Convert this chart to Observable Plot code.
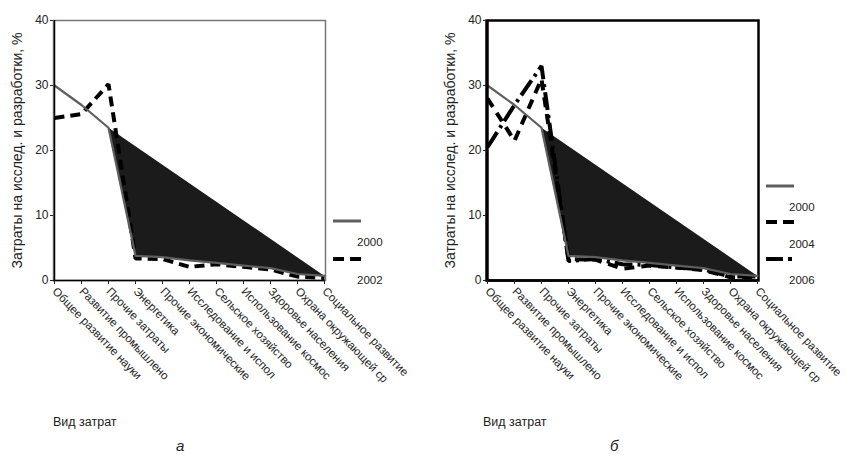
<!DOCTYPE html>
<html><head><meta charset="utf-8">
<script src="https://cdn.jsdelivr.net/npm/d3@7"></script>
<script src="https://cdn.jsdelivr.net/npm/@observablehq/plot@0.6"></script>
<style>
body{margin:0;background:#fff;font-family:"Liberation Sans",Arial,sans-serif;}
#root{position:relative;width:846px;height:457px;overflow:hidden;}
.abs{position:absolute;color:#222;}
</style></head>
<body><div id="root"></div>
<script>
const categories = ["Общее развитие науки","Развитие промышлено","Прочие затраты","Энергетика","Прочие экономические","Исследование и испол","Сельское хозяйство","Использование космос","Здоровье населения","Охрана окружающей ср","Социальное развитие"];
const v2000 = [30, 27, 23.5, 3.8, 3.6, 3.1, 2.7, 2.3, 1.9, 1.0, 0.7];
const v2002 = [25, 25.6, 30.2, 3.4, 3.3, 2.1, 2.5, 2.1, 1.7, 0.6, 0.4];
const v2004 = [28, 21.5, 31, 3.3, 3.2, 1.8, 2.3, 2.0, 1.6, 0.5, 0.5];
const v2006 = [20.5, 27, 33, 3.0, 3.3, 2.5, 2.4, 2.0, 1.7, 0.6, 0.6];
const yTicks = [0, 10, 20, 30, 40];
const yLabel = "Затраты на исслед. и разработки, %";
const xLabel = "Вид затрат";

const rows = vals => vals.map((v, i) => ({cat: categories[i], v}));

const styles = {
  "2000": {stroke: "#5e5e5e", strokeWidth: 2.2},
  "2002": {stroke: "#000", strokeWidth: 4, strokeDasharray: "10,6", strokeLinecap: "butt"},
  "2004": {stroke: "#000", strokeWidth: 4, strokeDasharray: "10,7", strokeLinecap: "butt"},
  "2006": {stroke: "#000", strokeWidth: 4, strokeDasharray: "18,5,3,5", strokeLinecap: "butt"}
};

function panel(series, opts) {
  const marks = [
    Plot.frame({stroke: opts.frameColor, strokeWidth: opts.frameWidth}),
    Plot.line(rows(v2000).slice(2), {x: "cat", y: "v", fill: "#1b1b1b", stroke: "#1b1b1b", strokeWidth: 1}),
  ];
  for (const [name, vals] of series.slice().reverse()) {
    if (name === "2000") continue;
    marks.push(Plot.line(rows(vals), {x: "cat", y: "v", ...styles[name], strokeLinejoin: "miter"}));
  }
  marks.push(Plot.line(rows(v2000), {x: "cat", y: "v", ...styles["2000"]}));
  marks.push(Plot.ruleY([0], {stroke: "#000", strokeWidth: opts.axisWidth}));
  marks.push(Plot.ruleX([categories[0]], {stroke: "#000", strokeWidth: opts.axisWidth}));
  marks.push(Plot.axisY({ticks: yTicks, tickSize: 3, tickPadding: 2, label: null, fontSize: 12}));
  marks.push(Plot.axisX({tickSize: 4, tickPadding: 5, tickRotate: 46, label: null, fontSize: 11.5}));
  marks.push(Plot.text([yLabel], {frameAnchor: "left", textAnchor: "middle", dx: -36, rotate: -90, fontSize: 14, fill: "#222"}));
  return Plot.plot({
    width: opts.w, height: 400,
    marginLeft: opts.ml, marginRight: opts.w - opts.ml - 272, marginTop: 20, marginBottom: 120,
    style: {fontFamily: '"Liberation Sans", Arial, sans-serif', color: "#222", background: "transparent", overflow: "visible"},
    x: {type: "point", domain: categories, padding: 0},
    y: {domain: [0, 40]},
    marks
  });
}

const root = document.getElementById("root");
function place(el, left, top) {
  const d = document.createElement("div");
  d.className = "abs"; d.style.left = left + "px"; d.style.top = top + "px";
  d.appendChild(el); root.appendChild(d); return d;
}
function text(str, left, top, size, italic) {
  const s = document.createElement("span");
  s.textContent = str; s.style.fontSize = size + "px"; s.style.whiteSpace = "nowrap";
  if (italic) s.style.fontStyle = "italic";
  place(s, left, top);
}
function legendLine(name, left, top) {
  const ns = "http://www.w3.org/2000/svg";
  const svg = document.createElementNS(ns, "svg");
  svg.setAttribute("width", 30); svg.setAttribute("height", 8);
  const l = document.createElementNS(ns, "line");
  l.setAttribute("x1", 0); l.setAttribute("x2", 28); l.setAttribute("y1", 4); l.setAttribute("y2", 4);
  const st = styles[name];
  l.setAttribute("stroke", st.stroke);
  l.setAttribute("stroke-width", name === "2000" ? 3 : 4);
  if (st.strokeDasharray) l.setAttribute("stroke-dasharray", name === "2002" || name === "2004" ? "11,6" : "17,5,4,5");
  svg.appendChild(l);
  place(svg, left, top - 4);
}

place(panel([["2000", v2000], ["2002", v2002]], {w: 420, ml: 53, frameColor: "#777", frameWidth: 1.5, axisWidth: 1.5}), 0, 0);
place(panel([["2000", v2000], ["2004", v2004], ["2006", v2006]], {w: 418, ml: 60, frameColor: "#000", frameWidth: 2.5, axisWidth: 2.5}), 426, 0);

// legend a
legendLine("2000", 333, 215); text("2000", 357, 232, 11.5);
legendLine("2002", 333, 253); text("2002", 357, 270, 11.5);
// legend b
legendLine("2000", 766, 180); text("2000", 789, 197, 11.5);
legendLine("2004", 766, 216); text("2004", 789, 234, 11.5);
legendLine("2006", 766, 253); text("2006", 789, 270, 11.5);

text(xLabel, 53, 412, 12.5);
text(xLabel, 483, 412, 12.5);
text("а", 176, 437, 15, true);
text("б", 610, 437, 15, true);
</script></body></html>
